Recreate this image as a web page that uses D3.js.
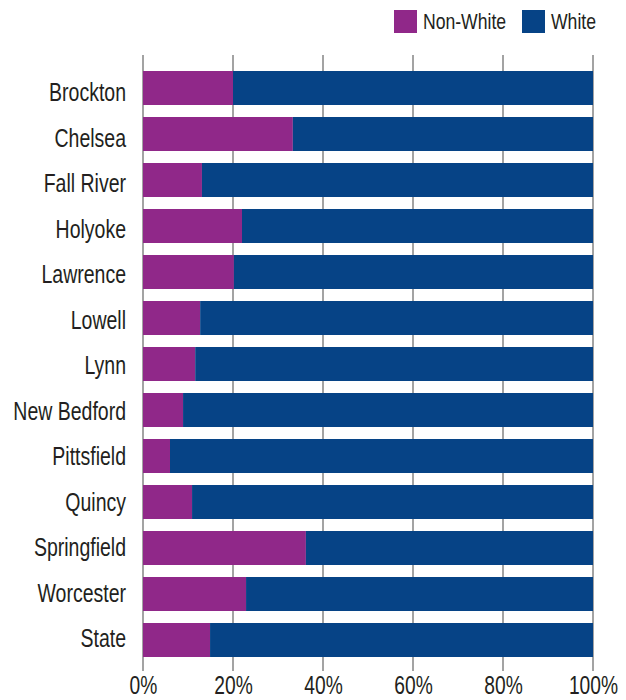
<!DOCTYPE html>
<html>
<head>
<meta charset="utf-8">
<script src="https://cdn.jsdelivr.net/npm/d3@7"></script>
<style>
  html, body { margin: 0; padding: 0; background: #fff; }
  svg { display: block; }
  text { font-family: "Liberation Sans", Arial, Helvetica, sans-serif; fill: #231f20; }
</style>
</head>
<body>
<svg id="chart" width="626" height="700"></svg>
<script>
const categories = ["Brockton","Chelsea","Fall River","Holyoke","Lawrence","Lowell","Lynn","New Bedford","Pittsfield","Quincy","Springfield","Worcester","State"];
const nonWhite = [20.0, 33.3, 13.1, 22.0, 20.2, 12.7, 11.6, 8.9, 6.0, 10.9, 36.2, 22.9, 14.9];
const white = nonWhite.map(v => 100 - v);
const seriesNames = ["Non-White", "White"];
const seriesColors = ["#902889", "#064386"];
const tickValues = [0, 20, 40, 60, 80, 100];

const svg = d3.select("#chart");
const x = d3.scaleLinear().domain([0, 100]).range([143, 593]);
const y = d3.scaleBand().domain(categories).range([59, 669]).paddingInner(12/46).paddingOuter(12/46);
// label baselines follow a slightly tighter spacing than the bars in the original
const yLabel = d3.scalePoint().domain(categories).range([101, 647]);

// gridlines
svg.append("g").selectAll("line").data(tickValues).join("line")
  .attr("x1", d => x(d)).attr("x2", d => x(d))
  .attr("y1", 55).attr("y2", 671)
  .attr("stroke", "#8c8c8c").attr("stroke-width", 1.6);

const rows = categories.map((c, i) => ({c, nw: nonWhite[i], w: white[i]}));
svg.append("g").selectAll("rect").data(rows).join("rect")
  .attr("x", x(0)).attr("y", d => y(d.c))
  .attr("width", d => x(d.nw) - x(0)).attr("height", y.bandwidth())
  .attr("fill", seriesColors[0]);
svg.append("g").selectAll("rect").data(rows).join("rect")
  .attr("x", d => x(d.nw)).attr("y", d => y(d.c))
  .attr("width", d => x(d.nw + d.w) - x(d.nw)).attr("height", y.bandwidth())
  .attr("fill", seriesColors[1]);

// category labels (condensed via horizontal scale)
svg.append("g").selectAll("g").data(categories).join("g")
  .attr("transform", d => `translate(126,${yLabel(d)})`)
  .append("text")
  .attr("transform", "scale(0.78,1)")
  .attr("text-anchor", "end")
  .attr("font-size", 25).text(d => d);

// x tick labels
const xAxis = d3.axisBottom(x).tickValues(tickValues).tickFormat(d => d + "%").tickSize(0);
const gx = svg.append("g").attr("transform", "translate(0,694)").call(xAxis);
gx.select(".domain").remove();
gx.selectAll("text")
  .attr("y", 0).attr("dy", null)
  .attr("transform", "scale(0.74,1)")
  .attr("font-size", 26)
  .style("font-family", '"Liberation Sans", Arial, sans-serif')
  .attr("fill", "#231f20");

// legend
const legX = [394, 522];
const leg = svg.append("g");
seriesNames.forEach((s, i) => {
  leg.append("rect").attr("x", legX[i]).attr("y", 10).attr("width", 23).attr("height", 23).attr("fill", seriesColors[i]);
  leg.append("g").attr("transform", `translate(${legX[i] + 29},29)`)
    .append("text").attr("transform", "scale(0.8,1)")
    .attr("font-size", 22).text(s);
});
</script>
</body>
</html>
